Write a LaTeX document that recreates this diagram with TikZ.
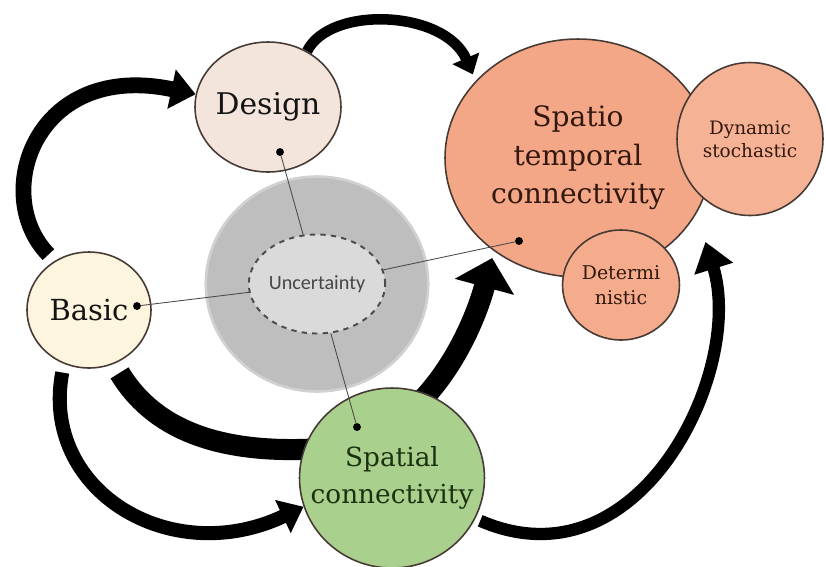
\documentclass[tikz,border=0pt]{standalone}
\usepackage{fontspec}
\setmainfont{DejaVu Serif}
\newfontfamily\calfont{Carlito}
\usepackage{tikz}
\usetikzlibrary{positioning, shapes.geometric, arrows.meta}
\usepackage{xcolor}

\definecolor{designfill}{RGB}{243,229,219}
\definecolor{basicfill}{RGB}{253,245,222}
\definecolor{stfill}{RGB}{244,167,135}
\definecolor{dynfill}{RGB}{245,178,148}
\definecolor{detfill}{RGB}{244,172,140}
\definecolor{spfill}{RGB}{170,208,142}
\definecolor{uncfill}{RGB}{218,218,218}
\definecolor{greyzone}{RGB}{190,190,190}
\definecolor{rim}{RGB}{70,58,52}
\definecolor{brownink}{RGB}{50,24,14}
\definecolor{greenink}{RGB}{28,50,14}

\pgfdeclarelayer{back}
\pgfsetlayers{back,main}

\begin{document}
\begin{tikzpicture}[x=0.02cm, y=-0.02cm,
    bubble/.style={draw=rim, ellipse, line width=0.9pt, inner sep=0pt},
    tag/.style={align=center, inner sep=0pt},
    dot/.style={circle, fill=black, inner sep=0pt, minimum size=4.5pt}, % spoke ends
    spoke/.style={draw=black!70, line width=0.5pt},
    flow/.style={line width=#1, line cap=butt}
    ]
\useasboundingbox (0,0) rectangle (826,566);

% grey zone and the uncertainty core
\node[ellipse, fill=greyzone, draw=greyzone!70, line width=1.5pt, minimum width=4.45cm, minimum height=4.3cm] (zone) at (317,284) {};
\node[ellipse, fill=uncfill, draw=black!70, dashed, line width=1.1pt, inner sep=0pt,
      minimum width=2.14cm, minimum height=1.98cm,
      font=\calfont\fontsize{11.5}{13}\selectfont, text=black!72] (unc) at (317,284) {Uncertainty};

\node[bubble, fill=designfill, minimum width=2.92cm, minimum height=2.6cm,
      label={[tag, font=\fontsize{17}{20}\selectfont, text=black!92]center:Design}] (design) at (268,107) {};
\node[bubble, fill=basicfill, minimum width=2.48cm, minimum height=2.32cm,
      label={[tag, font=\fontsize{16.5}{20}\selectfont, text=black!92]center:Basic}] (basic) at (89,310) {};
\node[bubble, fill=stfill, minimum width=5.32cm, minimum height=4.76cm,
      label={[tag, font=\fontsize{16}{22}\selectfont, text=brownink]center:{Spatio\\temporal\\connectivity}}] (spatio) at (578,158) {};
\node[bubble, fill=dynfill, minimum width=2.92cm, minimum height=3.06cm,
      label={[tag, font=\fontsize{10.5}{13}\selectfont, text=brownink]center:{Dynamic\\stochastic}}] (dyn) at (750,139) {};
\node[bubble, fill=detfill, minimum width=2.34cm, minimum height=2.2cm,
      label={[tag, font=\fontsize{10.8}{14.5}\selectfont, text=brownink]center:{Determi\\nistic}}] (det) at (621,285) {};
\node[bubble, fill=spfill, minimum width=3.7cm, minimum height=3.6cm,
      label={[tag, font=\fontsize{15}{21.5}\selectfont, text=greenink]center:{Spatial\\connectivity}}] (spatial) at (392,478) {};

\node[dot] (dd) at (280,152) {};
\node[dot] (db) at (137,306) {};
\node[dot] (dst) at (519,241) {};
\node[dot] (dsp) at (357,427) {};

\draw[spoke] (unc) -- (dd);
\draw[spoke] (unc) -- (db);
\draw[spoke] (unc) -- (dst);
\draw[spoke] (unc) -- (dsp);

% thick curved arrows behind the bubbles
\begin{pgfonlayer}{back}
\draw[flow=9pt, -{Triangle[width=22pt,length=14pt]}, shorten <=5pt]
    (basic.125) .. controls (-10,195) and (35,60) .. (design.170);
\draw[flow=6pt, -{Triangle[width=16pt,length=10pt]}, shorten >=4pt]
    (design.55) .. controls (330,5) and (445,10) .. (spatio.143);
\draw[flow=8pt, -{Triangle[width=20pt,length=13pt]}, shorten <=5pt]
    (basic.245) .. controls (40,490) and (170,570) .. (spatial.198);
\draw[flow=12pt, -{Triangle[width=34pt,length=17pt]}, shorten <=6pt, shorten >=4pt]
    (basic.295) .. controls (160,440) and (240,455) .. (330,448)
    .. controls (420,440) and (470,340) .. (spatio.228);
\draw[flow=7pt, -{Triangle[width=22pt,length=16pt]}, shorten <=3pt, shorten >=17pt]
    (spatial.-26) .. controls (640,590) and (745,370) .. (spatio.-25);
\end{pgfonlayer}
\end{tikzpicture}
\end{document}
